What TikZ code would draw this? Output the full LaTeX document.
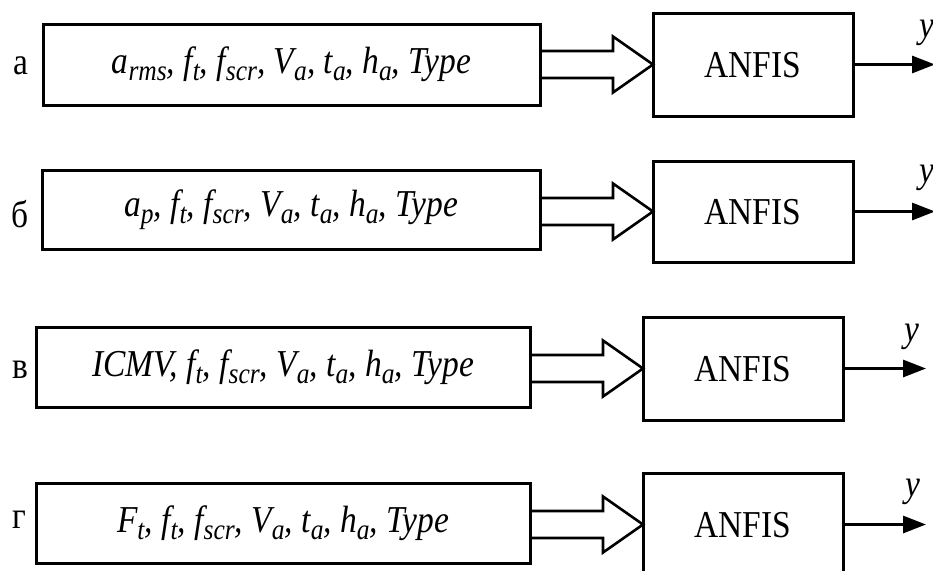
\documentclass[tikz,border=0pt]{standalone}
\usepackage{fontspec}
\setmainfont[FakeStretch=0.88]{Liberation Serif}
\usetikzlibrary{calc,arrows.meta}

% lowered, smaller index for the italic parameter names
\newcommand\sbx[1]{\raisebox{-0.18em}{\fontsize{29}{29}\selectfont #1}}

\tikzset{
  inbox/.style={draw, line width=3pt, outer sep=0pt, inner sep=0pt,
    font=\fontsize{38}{38}\selectfont\itshape},
  anfbox/.style={draw, line width=3pt, outer sep=0pt, inner sep=0pt,
    minimum width=200pt, minimum height=103pt,
    font=\fontsize{38}{38}\selectfont, text depth=0pt},
  hollow/.style={line width=2.6pt, line join=miter},
  outarr/.style={line width=3pt, -{Triangle[length=23pt,width=17pt]}},
  rowlab/.style={font=\fontsize{38}{38}\selectfont, inner sep=0pt},
  outlab/.style={font=\fontsize{38}{38}\selectfont\itshape, inner sep=0pt},
}

% hollow block arrow from an input box to an ANFIS box
\newcommand\blockarrow[2]{%
  \coordinate (#2-t) at ($(#2.west)+(-40,-13.5)$);
  \coordinate (#2-b) at ($(#2.west)+(-40,13.5)$);
  \draw[hollow] (#2-t -| #1.east) -- (#2-t) -- ($(#2.west)+(-40,-28)$)
    -- (#2.west) -- ($(#2.west)+(-40,28)$) -- (#2-b) -- (#2-b -| #1.east);
}

\begin{document}
\begin{tikzpicture}[x=1pt, y=-1pt]
\useasboundingbox (0,0) rectangle (933,570);

% ---- row a ----
\node[inbox, minimum width=497pt, minimum height=81pt] (inA) at (291.5,64.5)
  {a\sbx{rms}, f\sbx{t}, f\sbx{scr}, V\sbx{a}, t\sbx{a}, h\sbx{a}, Type};
\node[anfbox] (anA) at (753,64.5) {ANFIS};
\node[rowlab] (labA) at (21,66) {а};
\blockarrow{inA}{anA}
\coordinate (endA) at (935,64.5);
\draw[outarr] (anA.east) -- (endA);
\node[outlab] (yA) at (927,33) {y};

% ---- row b ----
\node[inbox, minimum width=498pt, minimum height=79pt] (inB) at (291,209.5)
  {a\sbx{p}, f\sbx{t}, f\sbx{scr}, V\sbx{a}, t\sbx{a}, h\sbx{a}, Type};
\node[anfbox, minimum height=101pt] (anB) at (753,211.5) {ANFIS};
\node[rowlab] (labB) at (20,214) {б};
\blockarrow{inB}{anB}
\coordinate (endB) at (935,211.5);
\draw[outarr] (anB.east) -- (endB);
\node[outlab] (yB) at (927,178) {y};

% ---- row v ----
\node[inbox, minimum width=494pt, minimum height=80pt] (inV) at (283,367.5)
  {ICMV, f\sbx{t}, f\sbx{scr}, V\sbx{a}, t\sbx{a}, h\sbx{a}, Type};
\node[anfbox] (anV) at (743,368.5) {ANFIS};
\node[rowlab] (labV) at (20,370) {в};
\blockarrow{inV}{anV}
\coordinate (endV) at (926,368.5);
\draw[outarr] (anV.east) -- (endV);
\node[outlab] (yV) at (912,337) {y};

% ---- row g ----
\node[inbox, minimum width=494pt, minimum height=80pt] (inG) at (283,523)
  {F\sbx{t}, f\sbx{t}, f\sbx{scr}, V\sbx{a}, t\sbx{a}, h\sbx{a}, Type};
\node[anfbox] (anG) at (743,524.5) {ANFIS};
\node[rowlab] (labG) at (19,520) {г};
\blockarrow{inG}{anG}
\coordinate (endG) at (926,524.5);
\draw[outarr] (anG.east) -- (endG);
\node[outlab] (yG) at (913,492) {y};
\end{tikzpicture}
\end{document}
